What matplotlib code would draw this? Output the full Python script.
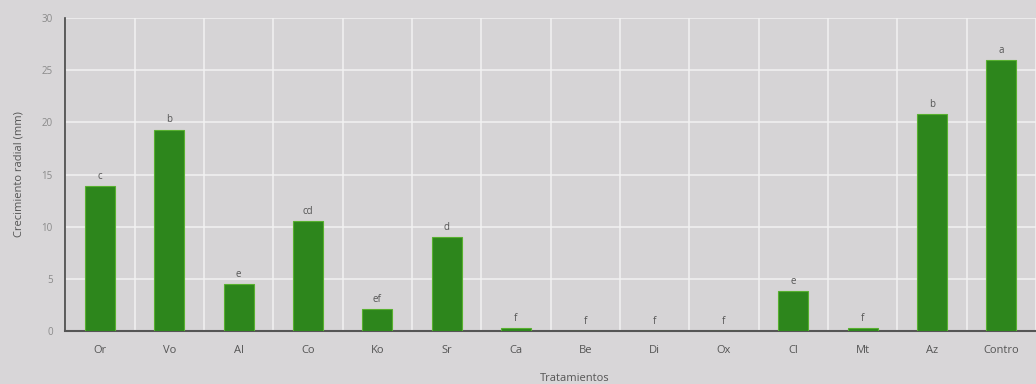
import matplotlib
matplotlib.use("Agg")
import matplotlib.pyplot as plt
import numpy as np

categories = ["Or", "Vo", "Al", "Co", "Ko", "Sr", "Ca", "Be", "Di", "Ox", "Cl", "Mt", "Az", "Contro"]
values = [13.9, 19.3, 4.5, 10.5, 2.1, 9.0, 0.3, 0.0, 0.0, 0.0, 3.8, 0.3, 20.8, 26.0]
letters = ["c", "b", "e", "cd", "ef", "d", "f", "f", "f", "f", "e", "f", "b", "a"]
yticks = [0, 5, 10, 15, 20, 25, 30]

plt.rcParams['font.family'] = ['Open Sans', 'DejaVu Sans']
bg = "#d8d6d8"
fig = plt.figure(figsize=(10.36, 3.84), dpi=100, facecolor=bg)
ax = fig.add_axes([0.063, 0.138, 0.937, 0.815], facecolor="#d6d4d6")

x = np.arange(len(categories))
ax.bar(x, values, width=0.43, color="#2d861c", edgecolor="#58b030", linewidth=0.8, zorder=3)
for xi, v, l in zip(x, values, letters):
    ax.text(xi, v + 0.4, l, ha="center", va="bottom", fontsize=7, color="#555555", zorder=4)

ax.set_xlim(-0.5, len(categories) - 0.5)
ax.set_ylim(0, 30)
ax.set_yticks(yticks)
ax.set_xticks(x)
ax.set_xticklabels(categories, fontsize=8, color="#555555")
ax.tick_params(axis="y", labelsize=7, colors="#8a8a8a", length=0, pad=9)
ax.tick_params(axis="x", length=0, pad=10)
ax.set_xticks(np.arange(-0.5, len(categories), 1.0), minor=True)
ax.tick_params(axis="x", which="minor", length=0)
ax.grid(axis="y", which="major", color="#f2f2f2", linewidth=1.1, zorder=0)
ax.grid(axis="x", which="minor", color="#f2f2f2", linewidth=1.1, zorder=0)
ax.grid(axis="x", which="major", visible=False)

for s in ["top", "right"]:
    ax.spines[s].set_visible(False)
ax.spines["left"].set_color("#444444")
ax.spines["left"].set_linewidth(1.2)
ax.spines["bottom"].set_color("#555555")
ax.spines["bottom"].set_linewidth(1.5)

ax.set_ylabel("Crecimiento radial (mm)", fontsize=8, color="#555555", labelpad=12)
fig.text(0.555, 0.0, "Tratamientos", ha="center", va="bottom", fontsize=8, color="#555555")

fig.savefig("out.png", dpi=100, facecolor=bg)
